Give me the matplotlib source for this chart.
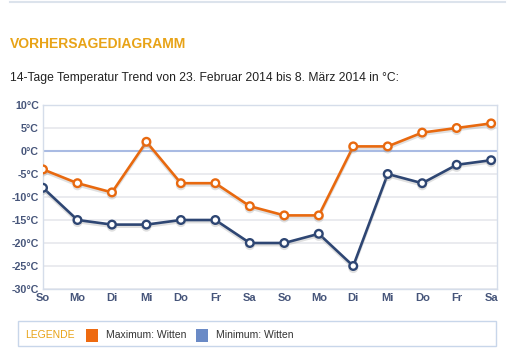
import matplotlib.pyplot as plt
import matplotlib.patheffects as pe
from matplotlib.patches import Rectangle

plt.rcParams['font.family'] = ['Liberation Sans', 'DejaVu Sans']

tage = ["So", "Mo", "Di", "Mi", "Do", "Fr", "Sa", "So", "Mo", "Di", "Mi", "Do", "Fr", "Sa"]
maximum = [-4, -7, -9, 2, -7, -7, -12, -14, -14, 1, 1, 4, 5, 6]
minimum = [-8, -15, -16, -16, -15, -15, -20, -20, -18, -25, -5, -7, -3, -2]
y_ticks = [10, 5, 0, -5, -10, -15, -20, -25, -30]

orange = "#E8690F"
navy = "#2E4673"
gold = "#E8A317"

fig = plt.figure(figsize=(5.22, 3.61), dpi=100)
W, H = 522, 361

# top rule
fig.add_artist(plt.Line2D([10 / W, 505 / W], [1 - 1.5 / H] * 2, color="#DCE3EC", lw=1.5))

fig.text(10 / W, 1 - 44 / H, "VORHERSAGEDIAGRAMM", color=gold, fontsize=10,
         fontweight="bold", va="center")
fig.text(10 / W, 1 - 78 / H,
         "14-Tage Temperatur Trend von 23. Februar 2014 bis 8. März 2014 in °C:",
         color="#222222", fontsize=8.7, va="center")

ax = fig.add_axes([43 / W, 1 - 289 / H, (497 - 43) / W, (289 - 105) / H])
x = list(range(len(tage)))

shadow = [pe.SimpleLineShadow(offset=(0, -1.5), shadow_color="#999999", alpha=0.3), pe.Normal()]
ax.plot(x, maximum, color=orange, lw=1.9, marker="o", ms=5.5, mfc="white", mec=orange,
        mew=1.7, path_effects=shadow, zorder=4)
ax.plot(x, minimum, color=navy, lw=1.9, marker="o", ms=5.5, mfc="white", mec=navy,
        mew=1.7, path_effects=shadow, zorder=4)

ax.axhline(0, color="#A9BBE3", lw=1.5, zorder=2)
ax.set_ylim(-30, 10)
ax.set_xlim(0, len(tage) - 1 + 0.17)
ax.set_yticks(y_ticks)
ax.set_yticklabels([f"{v}°C" for v in y_ticks])
ax.set_xticks(x)
ax.set_xticklabels(tage)
ax.grid(axis="y", color="#E6E8EC", lw=1.2)
ax.set_axisbelow(True)
ax.tick_params(axis="y", length=0, labelsize=7.7, labelcolor="#46557A", pad=3)
ax.tick_params(axis="x", length=0, labelsize=8, labelcolor="#46557A", pad=3)
for lab in ax.get_xticklabels() + ax.get_yticklabels():
    lab.set_fontweight("bold")
for s in ax.spines.values():
    s.set_color("#D5DDEA")
    s.set_linewidth(1)

# legend box
fig.add_artist(Rectangle((18 / W, 1 - 346 / H), (496 - 18) / W, 25 / H, transform=fig.transFigure,
                         facecolor="white", edgecolor="#C8D6EA", lw=1))
ly = 1 - 335.5 / H
fig.text(25 / W, ly, "LEGENDE", color=gold, fontsize=7.5, va="center")
fig.add_artist(Rectangle((86 / W, 1 - 342 / H), 12 / W, 13 / H, transform=fig.transFigure,
                         facecolor="#EE6A10", edgecolor="none"))
fig.text(106 / W, ly, "Maximum: Witten", color="#333333", fontsize=7.5, va="center")
fig.add_artist(Rectangle((196 / W, 1 - 342 / H), 12 / W, 13 / H, transform=fig.transFigure,
                         facecolor="#6A8AC6", edgecolor="none"))
fig.text(216 / W, ly, "Minimum: Witten", color="#333333", fontsize=7.5, va="center")

fig.savefig("out.png", dpi=100)
